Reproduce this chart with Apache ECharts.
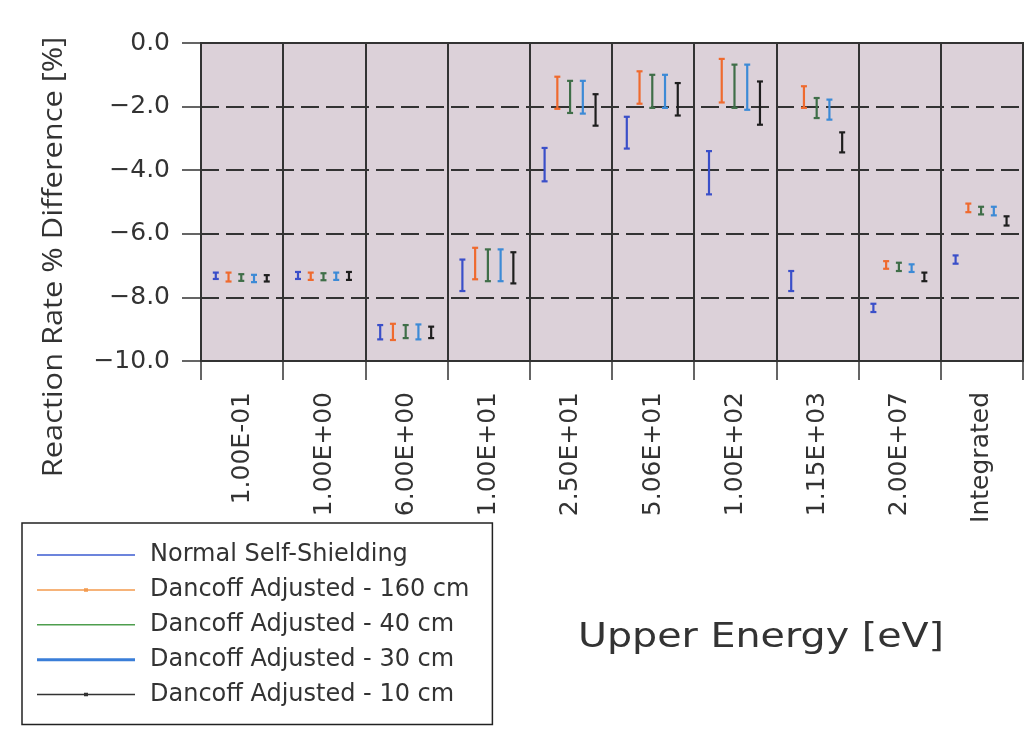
<!DOCTYPE html>
<html><head><meta charset="utf-8">
<script src="https://cdn.jsdelivr.net/npm/echarts@6/dist/echarts.min.js"></script>
<style>html,body{margin:0;padding:0;background:#fff}#chart{width:1029px;height:733px}</style>
</head><body><div id="chart"></div>
<script>
// ---- data ----
const categories = ['1.00E-01','1.00E+00','6.00E+00','1.00E+01','2.50E+01','5.06E+01','1.00E+02','1.15E+03','2.00E+07','Integrated'];
const yMin = -10, yMax = 0, yStep = 2;
const seriesNames = ['Normal Self-Shielding','Dancoff Adjusted - 160 cm','Dancoff Adjusted - 40 cm','Dancoff Adjusted - 30 cm','Dancoff Adjusted - 10 cm'];
// [low, high] per category
const normalSelfShielding = [[-7.42,-7.22],[-7.42,-7.20],[-9.32,-8.87],[-7.80,-6.81],[-4.35,-3.30],[-3.32,-2.32],[-4.76,-3.40],[-7.80,-7.17],[-8.46,-8.20],[-6.94,-6.68]];
const dancoff160 = [[-7.50,-7.22],[-7.45,-7.22],[-9.34,-8.83],[-7.43,-6.44],[-2.07,-1.06],[-1.91,-0.89],[-1.87,-0.50],[-2.04,-1.36],[-7.10,-6.86],[-5.32,-5.05]];
const dancoff40 = [[-7.48,-7.27],[-7.46,-7.24],[-9.28,-8.87],[-7.49,-6.49],[-2.20,-1.19],[-2.04,-1.00],[-2.04,-0.68],[-2.36,-1.73],[-7.17,-6.91],[-5.39,-5.15]];
const dancoff30 = [[-7.52,-7.29],[-7.45,-7.22],[-9.32,-8.85],[-7.49,-6.49],[-2.22,-1.19],[-2.04,-1.00],[-2.10,-0.68],[-2.41,-1.78],[-7.20,-6.96],[-5.42,-5.15]];
const dancoff10 = [[-7.50,-7.30],[-7.45,-7.20],[-9.28,-8.92],[-7.56,-6.58],[-2.60,-1.61],[-2.28,-1.26],[-2.57,-1.21],[-3.44,-2.81],[-7.49,-7.22],[-5.74,-5.45]];

// ---- styling ----
const allRanges = [normalSelfShielding, dancoff160, dancoff40, dancoff30, dancoff10];
const barColors = ['#3a4fc9','#ef6a2e','#3f6e48','#3c8ad6','#1e1e1e'];
const legendColors = ['#3b5bd0','#f39a4e','#4e9e4e','#3a7ed8','#333333'];
const legendIcons = [
  'path://M0,0L98,0L98,1.5L0,1.5Z',
  'path://M0,1L98,1L98,2.5L0,2.5Z M47,0L51,0L51,3.5L47,3.5Z',
  'path://M0,0L98,0L98,1.5L0,1.5Z',
  'path://M0,0L98,0L98,3L0,3Z',
  'path://M0,1L98,1L98,2.5L0,2.5Z M47,0L51,0L51,3.5L47,3.5Z'
];
const offsets = [-0.32,-0.165,-0.01,0.145,0.30];
const fmtY = v => (v < 0 ? '\u2212' : '') + Math.abs(v).toFixed(1);

function makeRenderItem(offsetFrac, color){
  return function(params, api){
    const c = api.value(0);
    const lo = api.coord([c, api.value(1)]);
    const hi = api.coord([c, api.value(2)]);
    const band = api.size([1, 0])[0];
    const x = lo[0] + band * offsetFrac;
    const cap = 3;
    const st = {stroke: color, lineWidth: 2.2};
    return {type:'group', children:[
      {type:'line', shape:{x1:x,y1:lo[1],x2:x,y2:hi[1]}, style:st},
      {type:'line', shape:{x1:x-cap,y1:lo[1],x2:x+cap,y2:lo[1]}, style:st},
      {type:'line', shape:{x1:x-cap,y1:hi[1],x2:x+cap,y2:hi[1]}, style:st}
    ]};
  };
}

const series = seriesNames.map((name, k) => ({
  type:'custom', name: name,
  renderItem: makeRenderItem(offsets[k], barColors[k]),
  data: allRanges[k].map((r, i) => [i, r[0], r[1]]),
  encode:{x:0, y:[1,2]},
  itemStyle:{color: barColors[k]},
  z: 10
}));

const chart = echarts.init(document.getElementById('chart'), null, {renderer:'canvas'});
chart.setOption({
  animation:false,
  backgroundColor:'#ffffff',
  grid:{left:201, right:6, top:43, bottom:372, show:true, backgroundColor:'#dcd1d9', borderColor:'#333', borderWidth:2},
  xAxis:{
    type:'category', data:categories,
    axisLine:{onZero:false, lineStyle:{color:'#333', width:2}},
    axisTick:{show:true, length:19, interval:0, lineStyle:{color:'#333', width:1.5}},
    axisLabel:{interval:0, rotate:90, margin:31, fontSize:25, fontFamily:'DejaVu Sans', color:'#333'},
    splitLine:{show:true, interval:0, lineStyle:{color:'#333', width:2, type:'solid'}}
  },
  yAxis:{
    type:'value', min:yMin, max:yMax, interval:yStep,
    axisLine:{show:true, lineStyle:{color:'#333', width:2}},
    axisTick:{show:true, length:19, lineStyle:{color:'#333', width:1.5}},
    axisLabel:{margin:31, fontSize:25, fontFamily:'DejaVu Sans', color:'#333', formatter: fmtY},
    splitLine:{show:true, lineStyle:{color:'#333', width:2, type:[18,7]}}
  },
  legend:{
    orient:'vertical', left:22, top:523, height:172,
    padding:[20,23,18,15],
    itemWidth:98, itemHeight:8, itemGap:10.9,
    borderColor:'#222', borderWidth:1.5, backgroundColor:'#ffffff',
    symbolKeepAspect:true,
    itemStyle:{borderWidth:0},
    textStyle:{fontFamily:'DejaVu Sans', fontSize:24, color:'#333', padding:[0,0,0,10]},
    data: seriesNames.map((n, k) => ({name:n, icon:legendIcons[k], itemStyle:{color:legendColors[k]}}))
  },
  graphic:[
    {type:'text', x:54, y:257, rotation:Math.PI/2, scaleX:1.14,
      style:{text:'Reaction Rate % Difference [%]', fontSize:27, fontFamily:'Open Sans', fill:'#333', align:'center', verticalAlign:'middle'}},
    {type:'text', x:578, y:638, scaleX:1.2,
      style:{text:'Upper Energy [eV]', fontSize:33, fontFamily:'DejaVu Sans', fill:'#333', align:'left', verticalAlign:'middle'}}
  ],
  series: series
});
</script></body></html>
